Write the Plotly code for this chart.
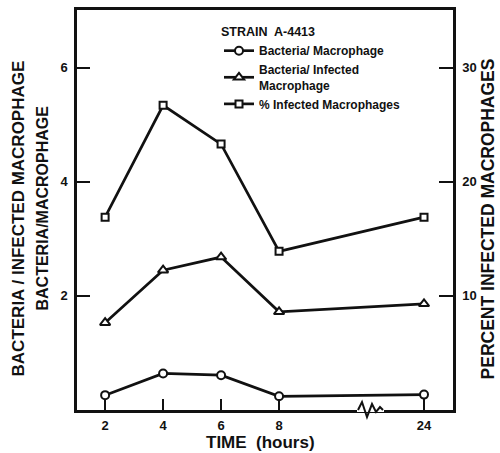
import plotly.graph_objects as go

# ---- data ----
time_hours = [2, 4, 6, 8, 24]
x_tick_labels = ["2", "4", "6", "8", "24"]
bacteria_per_macrophage = [0.26, 0.64, 0.61, 0.24, 0.27]
bacteria_per_infected_macrophage = [1.53, 2.45, 2.68, 1.72, 1.86]
percent_infected_macrophages = [16.9, 26.7, 23.3, 13.9, 16.9]
left_ticks = [2, 4, 6]
right_ticks = [10, 20, 30]

# broken time axis: hours after 8 are compressed
BREAK_AT = 8
BREAK_SCALE = 5 / 16


def axis_pos(h):
    return h if h <= BREAK_AT else BREAK_AT + (h - BREAK_AT) * BREAK_SCALE


xp = [axis_pos(h) for h in time_hours]

FONT = "Liberation Sans"
BLACK = "#111111"

fig = go.Figure()

fig.add_trace(go.Scatter(
    x=xp, y=bacteria_per_macrophage, mode="lines+markers",
    name="Bacteria/ Macrophage",
    line=dict(color=BLACK, width=2.7),
    marker=dict(symbol="circle", size=8, color="white", line=dict(color=BLACK, width=2)),
))
fig.add_trace(go.Scatter(
    x=xp, y=bacteria_per_infected_macrophage, mode="lines+markers",
    name="Bacteria/ Infected<br>Macrophage",
    line=dict(color=BLACK, width=2.7),
    marker=dict(symbol="triangle-up", size=9, color="white", line=dict(color=BLACK, width=2)),
))
fig.add_trace(go.Scatter(
    x=xp, y=percent_infected_macrophages, mode="lines+markers", yaxis="y2",
    name="% Infected Macrophages",
    line=dict(color=BLACK, width=2.7),
    marker=dict(symbol="square", size=7, color="white", line=dict(color=BLACK, width=2)),
))

# axis break decoration (zigzag on the time axis)
x0 = 1.03
ppu = 376 / (14.0 - 1.03)


def px_to_x(px):
    return x0 + (px - 77) / ppu


def py_to_paper(py):
    return (410 - py) / 403


zz = [(358, 410), (362, 402), (367, 417), (372, 404), (376, 412), (380, 407), (383, 410)]
path = "M " + " L ".join(f"{px_to_x(a):.4f},{py_to_paper(b):.4f}" for a, b in zz)

shapes = [
    dict(type="line", xref="x", yref="paper", x0=px_to_x(357), x1=px_to_x(384), y0=0, y1=0,
         line=dict(color="white", width=4), layer="above"),
    dict(type="path", xref="x", yref="paper", path=path,
         line=dict(color=BLACK, width=2), layer="above"),
]

annotations = [
    dict(text="<b>BACTERIA / INFECTED MACROPHAGE</b>", xref="paper", yref="paper",
         x=(18 - 77) / 376, y=(410 - 217) / 403, textangle=-90, showarrow=False,
         font=dict(family=FONT, size=17, color=BLACK), xanchor="center", yanchor="middle"),
    dict(text="<b>BACTERIA/MACROPHAGE</b>", xref="paper", yref="paper",
         x=(43 - 77) / 376, y=(410 - 207) / 403, textangle=-90, showarrow=False,
         font=dict(family=FONT, size=16, color=BLACK), xanchor="center", yanchor="middle"),
    dict(text="<b>PERCENT INFECTED MACROPHAGES</b>", xref="paper", yref="paper",
         x=(488 - 77) / 376, y=(410 - 218) / 403, textangle=-90, showarrow=False,
         font=dict(family=FONT, size=17.5, color=BLACK), xanchor="center", yanchor="middle"),
    dict(text="<b>TIME  (hours)</b>", xref="paper", yref="paper",
         x=(260 - 77) / 376, y=(410 - 443) / 403, showarrow=False,
         font=dict(family=FONT, size=17, color=BLACK), xanchor="center", yanchor="middle"),
]

fig.update_layout(
    width=500, height=453,
    margin=dict(l=77, r=47, t=7, b=43),
    paper_bgcolor="white", plot_bgcolor="white",
    font=dict(family=FONT, color=BLACK),
    showlegend=True,
    legend=dict(
        x=(219 - 77) / 376, y=(410 - 17) / 403, xanchor="left", yanchor="top",
        bgcolor="rgba(0,0,0,0)",
        font=dict(family=FONT, size=12, color=BLACK, weight="bold"),
        title=dict(text="STRAIN  A-4413", font=dict(family=FONT, size=12.5, color=BLACK, weight="bold")),
        tracegroupgap=0,
    ),
    xaxis=dict(
        range=[x0, 14.0], showgrid=False, zeroline=False,
        showline=True, linecolor=BLACK, linewidth=2.5, mirror=True,
        ticks="inside", ticklen=11, tickwidth=2, tickcolor=BLACK,
        tickvals=xp, ticktext=x_tick_labels,
        tickfont=dict(family=FONT, size=13, color=BLACK, weight="bold"),
        ticklabelstandoff=2,
    ),
    yaxis=dict(
        range=[0, 7.01], showgrid=False, zeroline=False,
        showline=True, linecolor=BLACK, linewidth=2.5,
        ticks="inside", ticklen=13, tickwidth=2, tickcolor=BLACK,
        tickvals=left_ticks,
        tickfont=dict(family=FONT, size=13, color=BLACK, weight="bold"),
        ticklabelstandoff=4,
    ),
    yaxis2=dict(
        range=[0, 35.05], overlaying="y", side="right", showgrid=False, zeroline=False,
        showline=True, linecolor=BLACK, linewidth=2.5,
        ticks="inside", ticklen=14, tickwidth=2, tickcolor=BLACK,
        tickvals=right_ticks,
        tickfont=dict(family=FONT, size=13, color=BLACK, weight="bold"),
        ticklabelstandoff=4,
    ),
    shapes=shapes,
    annotations=annotations,
)

fig.write_html(
    "out.html",
    config={"displayModeBar": False},
    post_script="document.body.style.margin='0';document.body.style.overflow='hidden';",
)
